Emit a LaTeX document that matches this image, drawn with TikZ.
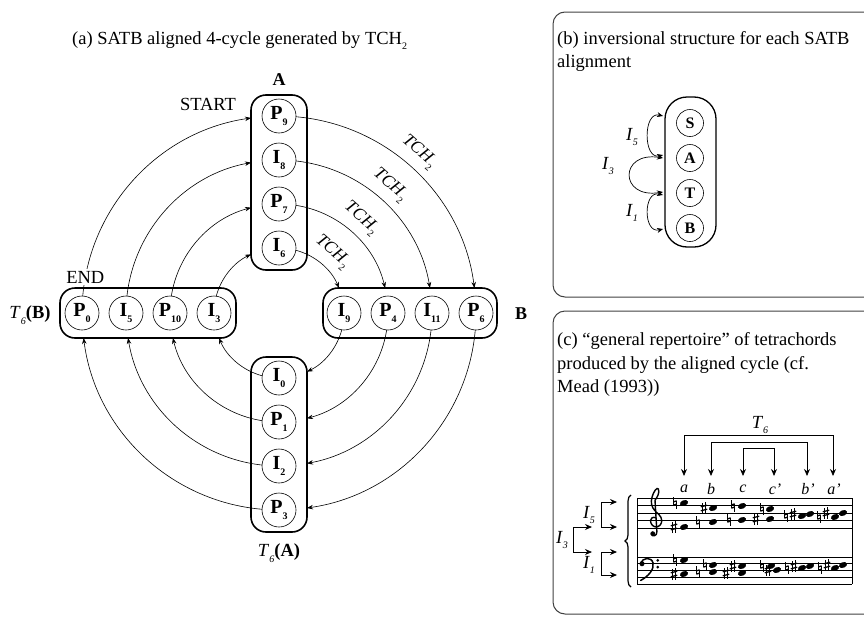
\documentclass[tikz,border=0pt]{standalone}
\usepackage{fontspec}
\setmainfont{Liberation Serif}
\usetikzlibrary{arrows.meta,calc,decorations.pathreplacing}
\newcommand{\mysub}[1]{\raisebox{-0.3em}{\fontsize{10}{10}\selectfont #1}}
\newcommand{\itsub}[1]{\raisebox{-0.3em}{\fontsize{10}{10}\selectfont\itshape #1}}
\newcommand{\tchlab}{\textit{TCH}\mysub{2}}
\begin{document}
\begin{tikzpicture}[x=1pt,y=1pt,
  nd/.style={circle,draw,line width=0.6pt,minimum size=34pt,inner sep=0pt,font=\fontsize{20}{20}\selectfont\bfseries},
  sn/.style={circle,draw,line width=0.6pt,minimum size=27pt,inner sep=0pt,font=\fontsize{16}{16}\selectfont\bfseries},
  grp/.style={draw,line width=1.6pt,rounded corners=15pt},
  cyc/.style={line width=0.6pt,-{Stealth[length=6pt,width=4.5pt]}},
  lbl/.style={font=\fontsize{18.5}{21}\selectfont},
  txt/.style={font=\fontsize{18.5}{21}\selectfont,inner sep=0pt,anchor=base west},
  tlab/.style={font=\fontsize{16}{16}\selectfont},
  tchs/.style={font=\fontsize{17.5}{17.5}\selectfont,rotate=-41,inner sep=0pt},
  panel/.style={draw=black!75,line width=1pt,rounded corners=12pt},
  dbl/.style={line width=0.7pt,{Stealth[length=6pt,width=5pt]}-{Stealth[length=6pt,width=5pt]}},
  brk/.style={line width=0.8pt,{Stealth[length=7pt,width=6pt]}-{Stealth[length=7pt,width=6pt]}},
  accs/.pic={
    \draw[line width=0.5pt] (-1.4,-6) -- (-1.4,5.5) (1.4,-5.5) -- (1.4,6);
    \draw[line width=1.3pt] (-3.2,1.2) -- (3.2,2.8) (-3.2,-2.8) -- (3.2,-1.2);
  },
  accn/.pic={
    \draw[line width=0.5pt] (-1.6,6) -- (-1.6,-2.4) (1.6,2.4) -- (1.6,-6);
    \draw[line width=1.3pt] (-1.6,1.0) -- (1.6,2.2) (-1.6,-2.2) -- (1.6,-1.0);
  }
]
\useasboundingbox (0,0) rectangle (864,-616);
\clip (0,0) rectangle (864,-616);

% ---------------- panel (a) ----------------
\node[txt] (ta) at (72,-44) {(a) SATB aligned 4-cycle generated by TCH\mysub{2}};
\coordinate (O) at (279,-313);

% cycle arcs
\foreach \R/\d/\ea/\eb/\ec/\ed in {65/14.99/22.6/-64.48/-157.4/115.52,
                                  109/8.94/13.26/-75.12/-166.74/104.88,
                                  153/6.37/9.40/-79.46/-170.6/100.54,
                                  197/4.94/7.29/-81.83/-172.71/98.17}{
  \draw[cyc] ([shift={(90-\d:\R)}]O) arc[start angle=90-\d, end angle=\ea, radius=\R];
  \draw[cyc] ([shift={(-\d:\R)}]O) arc[start angle=-\d, end angle=\eb, radius=\R];
  \draw[cyc] ([shift={(-90-\d:\R)}]O) arc[start angle=-90-\d, end angle=\ec, radius=\R];
  \draw[cyc] ([shift={(180-\d:\R)}]O) arc[start angle=180-\d, end angle=\ed, radius=\R];
}

% group boxes
\draw[grp] (251,-95) rectangle (307,-270);
\draw[grp] (251,-357) rectangle (307,-532);
\draw[grp] (323,-288) rectangle (497,-338);
\draw[grp] (60,-288) rectangle (236,-338);

% nodes: top column (A)
\node[nd] (P9) at (279,-116) {P\mysub{9}};
\node[nd] (I8) at (279,-160) {I\mysub{8}};
\node[nd] (P7) at (279,-204) {P\mysub{7}};
\node[nd] (I6) at (279,-248) {I\mysub{6}};
% right row (B)
\node[nd] (I9) at (344,-313) {I\mysub{9}};
\node[nd] (P4) at (388,-313) {P\mysub{4}};
\node[nd] (I11) at (432,-313) {I\mysub{11}};
\node[nd] (P6) at (476,-313) {P\mysub{6}};
% bottom column
\node[nd] (I0) at (279,-378) {I\mysub{0}};
\node[nd] (P1) at (279,-422) {P\mysub{1}};
\node[nd] (I2) at (279,-466) {I\mysub{2}};
\node[nd] (P3) at (279,-510) {P\mysub{3}};
% left row
\node[nd] (I3) at (214,-313) {I\mysub{3}};
\node[nd] (P10) at (170,-313) {P\mysub{10}};
\node[nd] (I5) at (126,-313) {I\mysub{5}};
\node[nd] (P0) at (82,-313) {P\mysub{0}};

% labels
\node[font=\fontsize{18}{18}\selectfont\bfseries] (lA) at (279,-80) {A};
\node[font=\fontsize{18}{18}\selectfont\bfseries] (lB) at (521,-314) {B};
\node[lbl] (lTB) at (30,-315) {\textit{T}\itsub{6}\textbf{(B)}};
\node[lbl] (lTA) at (279,-553) {\textit{T}\itsub{6}\textbf{(A)}};
\node[lbl] (start) at (208,-104) {START};
\node[lbl,fill=white,inner sep=2pt] (end) at ([shift={(169.5:197)}]O) {END};

\foreach \r [count=\k] in {81,125,169,213}{
  \node[tchs] (tch\k) at ([shift={(49:\r)}]O) {\tchlab};
}

% ---------------- panel (b) ----------------
\draw[panel] (553,-12) rectangle (890,-297);
\node[txt] (tb1) at (557,-44) {(b) inversional structure for each SATB};
\node[txt] (tb2) at (557,-67) {alignment};
\draw[grp,line width=1.3pt,rounded corners=22pt] (665,-97) rectangle (716,-247);
\node[sn] (S) at (690,-123) {S};
\node[sn] (A) at (690,-158) {A};
\node[sn] (T) at (690,-193) {T};
\node[sn] (B) at (690,-228) {B};
\coordinate (i5a) at (663,-116);
\coordinate (i5b) at (663,-155);
\coordinate (i3a) at (663,-158);
\coordinate (i3b) at (663,-192);
\coordinate (i1a) at (663,-195);
\coordinate (i1b) at (663,-229);
\draw[dbl] (i5a) .. controls (643,-111) and (643,-160) .. (i5b);
\draw[dbl] (i3a) .. controls (619,-151) and (619,-199) .. (i3b);
\draw[dbl] (i1a) .. controls (643,-190) and (643,-234) .. (i1b);
\node[lbl] (li5) at (632,-137) {\textit{I}\itsub{5}};
\node[lbl] (li3) at (608,-166) {\textit{I}\itsub{3}};
\node[lbl] (li1) at (632,-213) {\textit{I}\itsub{1}};

% ---------------- panel (c) ----------------
\draw[panel] (553,-311) rectangle (890,-614);
\node[txt] (tc1) at (557,-345) {(c) “general repertoire” of tetrachords};
\node[txt] (tc2) at (557,-369) {produced by the aligned cycle (cf.};
\node[txt] (tc3) at (557,-392) {Mead (1993))};

\node[lbl] (t6) at (760,-425) {\textit{T}\itsub{6}};
\coordinate (ca) at (684,-476);  \coordinate (cap) at (833,-476);
\coordinate (cb) at (711,-476);  \coordinate (cbp) at (807,-476);
\coordinate (cc) at (743,-476);  \coordinate (ccp) at (774,-476);
\draw[brk] (ca) -- ([yshift=41pt]ca) -| (cap);
\draw[brk] (cb) -- ([yshift=34pt]cb) -| (cbp);
\draw[brk] (cc) -- ([yshift=28pt]cc) -| (ccp);
\node[tlab] (la) at (684,-489) {\textit{a}};
\node[tlab] (lb) at (711,-489) {\textit{b}};
\node[tlab] (lc) at (743,-489) {\textit{c}};
\node[tlab] (lcp) at (775,-489) {\textit{c’}};
\node[tlab] (lbp) at (808,-489) {\textit{b’}};
\node[tlab] (lap) at (834,-489) {\textit{a’}};

% left brackets
\draw[brk] (617,-502) -- (601,-502) -- (601,-527) -- (617,-527);
\draw[brk] (592,-527) -- (573,-527) -- (573,-552) -- (592,-552);
\draw[brk] (617,-552) -- (601,-552) -- (601,-575) -- (617,-575);
\node[lbl] (ci5) at (589,-515) {\textit{I}\itsub{5}};
\node[lbl] (ci3) at (562,-540) {\textit{I}\itsub{3}};
\node[lbl] (ci1) at (589,-565) {\textit{I}\itsub{1}};

% staves
\foreach \i in {0,...,4}{
  \draw[line width=0.6pt] (637,{-498-7.5*\i}) -- (852,{-498-7.5*\i});
  \draw[line width=0.6pt] (637,{-557-6.7*\i}) -- (852,{-557-6.7*\i});
}
\draw[line width=0.9pt] (637,-498) -- (637,-583.8);
\draw[line width=0.9pt] (852,-498) -- (852,-583.8);
\draw[decorate,decoration={brace,amplitude=6pt},line width=1.2pt] (631,-587) -- (631,-495);

% treble clef
\begin{scope}[shift={(655,-520.5)},x=7.5pt,y=7.5pt,line width=1.4pt,line cap=round]
  \draw (0.15,0.35) .. controls (-0.3,0.55) and (-0.6,0.3) .. (-0.6,0)
        .. controls (-0.6,-0.55) and (-0.2,-0.85) .. (0.15,-0.85)
        .. controls (0.6,-0.85) and (0.9,-0.45) .. (0.9,0)
        .. controls (0.9,0.6) and (0.3,0.95) .. (-0.05,1.35)
        .. controls (-0.45,1.8) and (-0.6,2.4) .. (-0.4,3.1)
        .. controls (-0.2,3.9) and (0.3,4.5) .. (0.45,4.2)
        .. controls (0.65,3.7) and (0.3,3.1) .. (0.0,2.7)
        -- (0.25,-1.5)
        .. controls (0.3,-2.1) and (-0.4,-2.2) .. (-0.5,-1.8);
  \fill (-0.3,-1.75) circle (0.32);
\end{scope}
% bass clef
\begin{scope}[shift={(642,-563.7)},x=6.7pt,y=6.7pt,line cap=round]
  \fill (0,0) circle (0.38);
  \draw[line width=1.5pt] (-0.2,0.1) .. controls (0.1,0.9) and (1.4,1.1) .. (1.65,0.1)
        .. controls (1.85,-0.9) and (0.9,-1.9) .. (-0.2,-2.5);
  \fill (2.35,0.5) circle (0.22);
  \fill (2.35,-0.5) circle (0.22);
\end{scope}

% note heads with accidentals
\foreach \x/\y/\a/\ax in {684/503/accn/675, 684/527/accs/674, 713/508/accs/704, 713/522/accn/698,
                           742/506/accn/733, 742/520/accn/729, 770/509/accn/762, 770/519/accs/756,
                           802/516/accn/786, 810/514/accs/793, 835/517/accn/819, 843/513/accs/826,
                           684/560/accn/675, 684/574/accs/674, 713/565/accn/705, 713/572/accn/698,
                           742/566/accs/733, 742/573/accs/726, 771/566/accn/762, 777/570/accs/768,
                           802/568/accn/787, 810/566/accs/794, 835/568/accn/820, 843/565/accs/827}{
  \fill[rotate around={20:(\x,-\y)}] (\x,-\y) ellipse (4.2pt and 2.8pt);
  \pic at (\ax,-\y) {\a};
}
\end{tikzpicture}
\end{document}
